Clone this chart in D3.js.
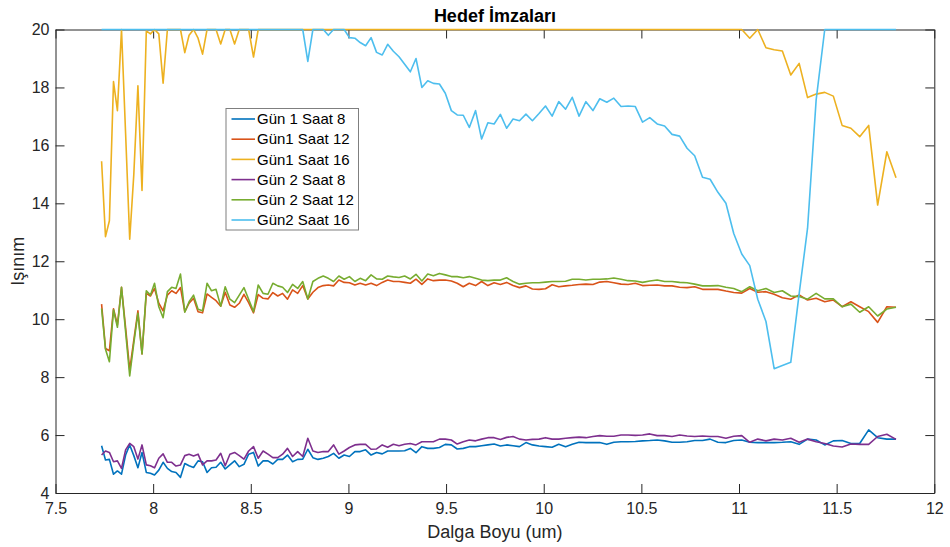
<!DOCTYPE html>
<html>
<head>
<meta charset="utf-8">
<script src="https://cdn.jsdelivr.net/npm/d3@7"></script>
<style>
  body { margin: 0; background: #fff; }
  text { font-family: "Liberation Sans", Arial, Helvetica, sans-serif; }
</style>
</head>
<body>
<div id="chart"></div>
<script>
// wavelength grid (um)
var wavelength = [7.736,7.756,7.776,7.797,7.817,7.838,7.859,7.880,7.901,7.922,
  7.943,7.965,7.986,8.007,8.029,8.051,8.073,8.095,8.117,8.140,
  8.162,8.184,8.207,8.230,8.253,8.276,8.299,8.322,8.346,8.369,
  8.393,8.417,8.441,8.465,8.489,8.514,8.538,8.563,8.588,8.613,
  8.638,8.663,8.688,8.714,8.740,8.766,8.792,8.818,8.844,8.871,
  8.897,8.924,8.951,8.978,9.005,9.033,9.060,9.088,9.116,9.144,
  9.173,9.201,9.230,9.259,9.288,9.317,9.346,9.376,9.406,9.435,
  9.466,9.496,9.527,9.557,9.588,9.619,9.651,9.682,9.714,9.746,
  9.778,9.810,9.843,9.876,9.909,9.942,9.976,10.009,10.043,10.077,
  10.112,10.146,10.181,10.216,10.252,10.287,10.323,10.359,10.396,10.432,
  10.469,10.506,10.543,10.581,10.619,10.657,10.696,10.734,10.773,10.813,
  10.852,10.892,10.933,10.973,11.014,11.055,11.096,11.138,11.180,11.222,
  11.265,11.308,11.351,11.395,11.439,11.483,11.528,11.573,11.618,11.664,
  11.710,11.757,11.804];

var gun1Saat8 = [5.63,5.14,5.16,4.65,4.76,4.65,5.31,5.66,5.29,4.87,
  5.40,4.71,4.68,4.62,4.79,5.06,4.85,4.74,4.71,4.54,
  5.02,4.94,4.88,5.11,5.08,4.71,4.87,4.89,5.06,4.83,
  4.97,5.11,4.91,4.99,5.34,5.40,4.93,5.11,5.11,5.00,
  5.16,5.16,5.31,5.08,5.16,5.17,5.51,5.22,5.16,5.20,
  5.26,5.37,5.20,5.31,5.26,5.43,5.43,5.49,5.31,5.40,
  5.35,5.45,5.45,5.45,5.46,5.54,5.39,5.60,5.54,5.54,
  5.57,5.68,5.66,5.52,5.54,5.60,5.60,5.63,5.66,5.69,
  5.62,5.66,5.63,5.60,5.74,5.66,5.62,5.60,5.58,5.68,
  5.60,5.68,5.75,5.74,5.74,5.74,5.68,5.75,5.77,5.77,
  5.78,5.80,5.81,5.83,5.80,5.75,5.75,5.77,5.81,5.81,
  5.86,5.75,5.74,5.81,5.83,5.75,5.74,5.74,5.74,5.75,
  5.77,5.68,5.86,5.83,5.66,5.80,5.81,5.71,5.71,6.18,
  5.91,5.86,5.86];

var gun1Saat12 = [10.52,8.99,8.91,10.36,9.80,11.10,9.70,8.25,9.28,10.29,
  8.80,10.89,10.80,11.06,10.55,10.29,10.83,10.98,10.89,11.09,
  10.26,10.55,10.72,10.26,10.22,10.87,10.75,10.64,10.45,10.93,
  10.49,10.41,10.55,10.86,10.57,10.22,10.85,10.72,10.70,10.92,
  10.80,10.89,10.69,11.01,10.89,11.16,10.70,10.93,11.09,11.16,
  11.18,11.15,11.35,11.27,11.26,11.18,11.24,11.18,11.24,11.16,
  11.27,11.35,11.30,11.30,11.27,11.24,11.38,11.20,11.39,11.33,
  11.35,11.35,11.32,11.24,11.12,11.24,11.16,11.30,11.16,11.26,
  11.20,11.27,11.16,11.09,11.15,11.04,11.03,11.05,11.19,11.12,
  11.15,11.17,11.20,11.21,11.20,11.28,11.30,11.26,11.21,11.20,
  11.24,11.16,11.17,11.18,11.15,11.15,11.10,11.09,11.12,11.03,
  11.03,11.03,10.97,10.92,10.90,11.06,10.93,10.95,10.86,10.74,
  10.69,10.84,10.66,10.72,10.60,10.66,10.43,10.60,10.43,10.26,
  9.89,10.43,10.41];

var gun1Saat16 = [15.45,12.85,13.40,18.20,17.20,20,16.40,12.76,15.00,18.06,
  14.44,19.95,19.85,20,19.85,18.15,20,20,20,20,
  19.20,19.80,20,19.70,19.15,20,20,20,19.50,20,
  20,19.50,20,20,20,19.05,20,20,20,20,
  20,20,20,20,20,20,20,20,20,20,
  20,20,20,20,20,20,20,20,20,20,
  20,20,20,20,20,20,20,20,20,20,
  20,20,20,20,20,20,20,20,20,20,
  20,20,20,20,20,20,20,20,20,20,
  20,20,20,20,20,20,20,20,20,20,
  20,20,20,20,20,20,20,20,20,20,
  20,20,20,20,20,19.70,20,19.37,19.30,19.26,
  18.43,18.83,17.65,17.77,17.83,17.70,16.69,16.59,16.30,16.69,
  13.94,15.78,14.88];

var gun2Saat8 = [5.31,5.45,5.40,5.08,5.11,4.85,5.49,5.71,5.60,5.17,
  5.66,4.97,4.94,4.87,5.20,5.35,5.06,5.06,4.93,4.97,
  5.29,5.34,5.28,5.34,4.97,5.11,5.11,5.14,5.37,4.94,
  5.34,5.40,5.29,5.17,5.45,5.60,5.20,5.45,5.34,5.22,
  5.22,5.34,5.54,5.26,5.43,5.26,5.89,5.45,5.40,5.43,
  5.43,5.66,5.34,5.45,5.57,5.66,5.68,5.68,5.51,5.52,
  5.66,5.58,5.68,5.63,5.68,5.71,5.66,5.77,5.77,5.77,
  5.86,5.86,5.83,5.69,5.77,5.83,5.80,5.86,5.91,5.91,
  5.85,5.92,5.95,5.86,5.83,5.85,5.86,5.91,5.86,5.86,
  5.89,5.91,5.93,5.91,5.95,5.98,5.96,5.96,6.00,6.00,
  5.99,6.00,6.04,5.98,5.98,5.95,6.00,5.97,5.95,5.97,
  5.95,5.95,5.89,5.96,5.98,5.75,5.86,5.80,5.86,5.83,
  5.89,5.75,5.86,5.77,5.71,5.62,5.59,5.69,5.68,5.68,
  5.95,6.03,5.85];

var gun2Saat12 = [10.37,8.96,8.53,10.32,9.72,11.10,9.57,8.04,9.17,10.20,
  8.80,10.98,10.83,11.24,10.43,10.05,10.95,11.10,11.06,11.56,
  10.24,10.60,10.83,10.34,10.29,11.24,10.98,11.03,10.45,11.12,
  10.69,10.57,10.83,11.09,10.69,10.26,11.18,10.89,10.86,11.24,
  11.15,11.10,10.92,11.20,11.06,11.30,10.70,11.30,11.41,11.49,
  11.41,11.30,11.49,11.38,11.47,11.30,11.41,11.33,11.53,11.39,
  11.38,11.49,11.46,11.44,11.49,11.39,11.55,11.32,11.56,11.50,
  11.58,11.53,11.47,11.47,11.43,11.47,11.41,11.35,11.33,11.35,
  11.35,11.43,11.30,11.21,11.24,11.26,11.26,11.28,11.30,11.30,
  11.31,11.38,11.38,11.35,11.38,11.38,11.39,11.42,11.38,11.33,
  11.32,11.27,11.32,11.35,11.30,11.30,11.27,11.26,11.21,11.15,
  11.15,11.16,11.10,11.06,10.95,11.12,10.98,11.06,10.92,10.98,
  10.80,10.78,10.69,10.89,10.70,10.70,10.43,10.52,10.24,10.43,
  10.11,10.35,10.41];

var gun2Saat16 = [20,20,20,20,20,20,20,20,20,20,
  20,20,20,20,20,20,20,20,20,20,
  20,20,20,20,20,20,20,20,20,20,
  20,20,20,20,20,20,20,20,20,20,
  20,20,20,20,20,20,18.90,20,20,20,
  19.80,20,20,20,19.72,19.70,19.55,19.44,19.72,19.21,
  19.12,19.49,19.25,19.06,18.80,18.54,19.00,18.00,18.23,18.14,
  18.12,17.80,17.20,17.05,17.04,16.62,17.20,16.22,16.78,16.74,
  17.07,16.59,16.91,16.85,17.08,16.85,17.10,17.36,17.01,17.51,
  17.25,17.66,17.01,17.51,17.20,17.61,17.49,17.63,17.34,17.36,
  17.34,16.80,16.96,16.74,16.67,16.38,16.32,15.90,15.64,14.90,
  14.83,14.38,14.00,12.96,12.25,11.85,10.69,9.92,8.29,8.40,
  8.51,10.88,13.14,17.57,20,20,20,20,20,20,
  20,20,20];

var seriesNames = ["Gün 1 Saat 8", "Gün1 Saat 12", "Gün1 Saat 16", "Gün 2 Saat 8", "Gün 2 Saat 12", "Gün2 Saat 16"];
var seriesValues = [gun1Saat8, gun1Saat12, gun1Saat16, gun2Saat8, gun2Saat12, gun2Saat16];
var seriesColors = ["#0072BD", "#D95319", "#EDB120", "#7E2F8E", "#77AC30", "#4DBEEE"];

var xTicks = [7.5, 8, 8.5, 9, 9.5, 10, 10.5, 11, 11.5, 12];
var yTicks = [4, 6, 8, 10, 12, 14, 16, 18, 20];

var width = 950, height = 547;
var margin = {top: 29.5, right: 15.7, bottom: 54, left: 55.5};
var iw = width - margin.left - margin.right;
var ih = height - margin.top - margin.bottom;
var axisColor = "#262626";

var svg = d3.select("#chart").append("svg")
  .attr("width", width)
  .attr("height", height);

var g = svg.append("g")
  .attr("transform", "translate(" + margin.left + "," + margin.top + ")");

var x = d3.scaleLinear().domain([7.5, 12]).range([0, iw]);
var y = d3.scaleLinear().domain([4, 20]).range([ih, 0]);

// axes (ticks inward, box on all sides)
var xAxis = g.append("g")
  .attr("transform", "translate(0," + ih + ")")
  .call(d3.axisBottom(x).tickValues(xTicks).tickFormat(d3.format("")).tickSizeInner(-9).tickSizeOuter(0).tickPadding(10));
var xTop = g.append("g")
  .call(d3.axisTop(x).tickValues(xTicks).tickFormat("").tickSizeInner(-9).tickSizeOuter(0));
var yAxis = g.append("g")
  .call(d3.axisLeft(y).tickValues(yTicks).tickSizeInner(-9).tickSizeOuter(0).tickPadding(6));
var yRight = g.append("g")
  .attr("transform", "translate(" + iw + ",0)")
  .call(d3.axisRight(y).tickValues(yTicks).tickFormat("").tickSizeInner(-9).tickSizeOuter(0));

[xAxis, xTop, yAxis, yRight].forEach(function(a) {
  a.select(".domain").attr("stroke", axisColor).attr("stroke-width", 1);
  a.selectAll(".tick line").attr("stroke", axisColor).attr("stroke-width", 1);
  a.selectAll(".tick text")
    .attr("fill", axisColor)
    .style("font-size", "16px")
    .style("font-family", "'Liberation Sans', Arial, sans-serif");
});

// data lines
var line = d3.line()
  .x(function(d, i) { return x(wavelength[i]); })
  .y(function(d) { return y(d); });

seriesValues.forEach(function(vals, idx) {
  g.append("path")
    .datum(vals)
    .attr("fill", "none")
    .attr("stroke", seriesColors[idx])
    .attr("stroke-width", 1.6)
    .attr("stroke-linejoin", "round")
    .attr("d", line);
});

// title and axis labels
svg.append("text")
  .attr("x", margin.left + iw / 2)
  .attr("y", 21.5)
  .attr("text-anchor", "middle")
  .style("font-size", "18px")
  .style("font-weight", "bold")
  .attr("fill", "#000")
  .text("Hedef İmzaları");

svg.append("text")
  .attr("x", margin.left + iw / 2)
  .attr("y", 538)
  .attr("text-anchor", "middle")
  .style("font-size", "18px")
  .attr("fill", axisColor)
  .text("Dalga Boyu (um)");

svg.append("text")
  .attr("transform", "translate(24," + (margin.top + ih / 2) + ") rotate(-90)")
  .attr("text-anchor", "middle")
  .style("font-size", "18px")
  .attr("fill", axisColor)
  .text("Işınım");

// legend
var legend = svg.append("g").attr("transform", "translate(226,108.5)");
legend.append("rect")
  .attr("width", 132.5)
  .attr("height", 121.5)
  .attr("fill", "#fff")
  .attr("stroke", "#7f7f7f")
  .attr("stroke-width", 1);

var rows = legend.selectAll("g.row")
  .data(seriesNames)
  .enter().append("g")
  .attr("class", "row")
  .attr("transform", function(d, i) { return "translate(0," + (10.5 + i * 20.2) + ")"; });

rows.append("line")
  .attr("x1", 5.5).attr("x2", 29)
  .attr("y1", 0).attr("y2", 0)
  .attr("stroke", function(d, i) { return seriesColors[i]; })
  .attr("stroke-width", 1.6);

rows.append("text")
  .attr("x", 31)
  .attr("y", 0)
  .attr("dy", "0.35em")
  .style("font-size", "15px")
  .attr("fill", "#000")
  .text(function(d) { return d; });
</script>
</body>
</html>
